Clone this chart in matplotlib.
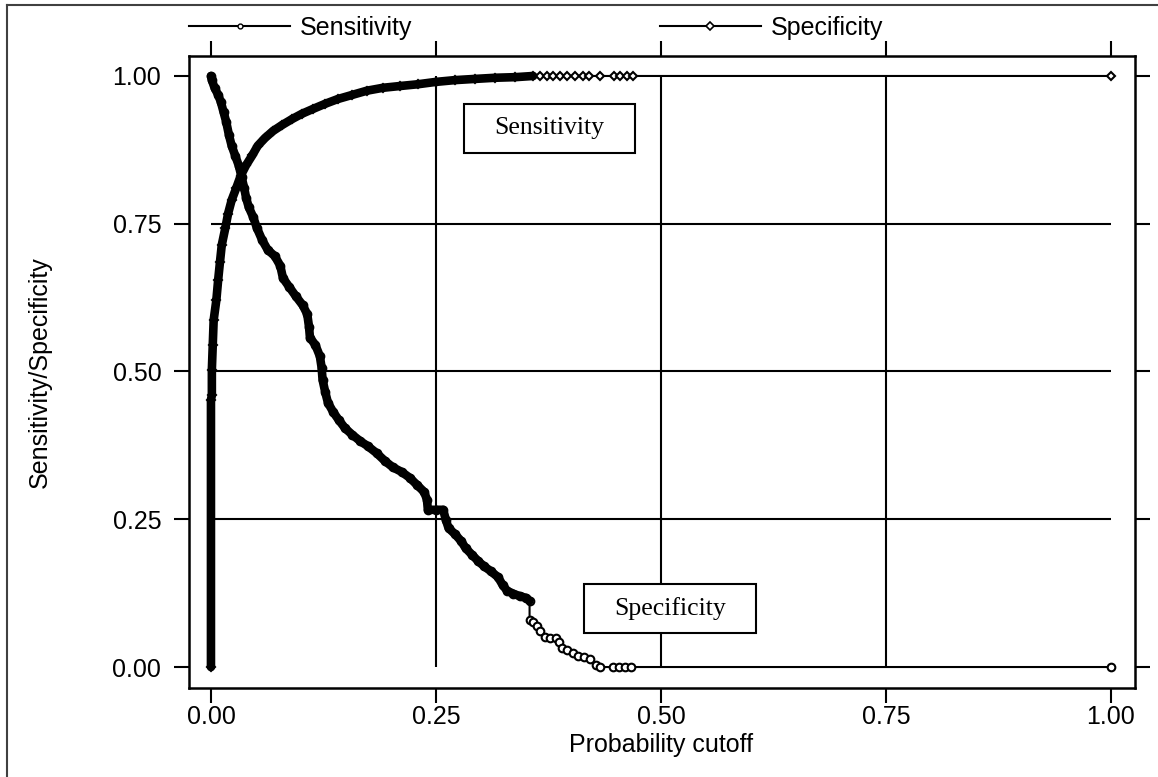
import matplotlib
matplotlib.use("Agg")
import matplotlib.pyplot as plt
from matplotlib.lines import Line2D
from matplotlib.patches import Rectangle

plt.rcParams['font.family'] = ['Liberation Sans', 'DejaVu Sans']

# sensitivity curve (falls from 1 to 0)
sens_x = [0.0, 0.001, 0.004, 0.008, 0.011, 0.014, 0.017, 0.02, 0.023, 0.027,
          0.031, 0.034, 0.037, 0.039, 0.042, 0.047, 0.051, 0.057, 0.063, 0.071,
          0.077, 0.08, 0.087, 0.094, 0.102, 0.107, 0.109, 0.11, 0.116, 0.121,
          0.123, 0.124, 0.127, 0.13, 0.136, 0.142, 0.149, 0.157, 0.166, 0.174,
          0.184, 0.193, 0.202, 0.212, 0.221, 0.229, 0.237, 0.24, 0.241, 0.25,
          0.258, 0.261, 0.264, 0.271, 0.278, 0.283, 0.29, 0.297, 0.303, 0.311,
          0.319, 0.324, 0.329, 0.336, 0.343, 0.35, 0.354,
          0.354, 0.358, 0.362, 0.366, 0.371, 0.377, 0.383, 0.387, 0.39, 0.396,
          0.402, 0.408, 0.414, 0.421, 0.428, 0.432, 0.447, 0.453, 0.46, 0.467, 1.0]
sens_y = [1.0, 0.993, 0.98, 0.968, 0.956, 0.939, 0.922, 0.9, 0.882, 0.865,
          0.848, 0.829, 0.81, 0.794, 0.778, 0.761, 0.743, 0.722, 0.706, 0.695,
          0.679, 0.658, 0.643, 0.628, 0.612, 0.597, 0.575, 0.557, 0.545, 0.526,
          0.506, 0.486, 0.465, 0.447, 0.431, 0.418, 0.404, 0.393, 0.382, 0.374,
          0.362, 0.349, 0.338, 0.33, 0.32, 0.308, 0.296, 0.283, 0.266, 0.266,
          0.266, 0.249, 0.235, 0.225, 0.213, 0.201, 0.19, 0.179, 0.171, 0.162,
          0.152, 0.139, 0.129, 0.124, 0.12, 0.117, 0.112,
          0.08, 0.076, 0.069, 0.061, 0.051, 0.049, 0.049, 0.042, 0.032, 0.029,
          0.024, 0.019, 0.017, 0.014, 0.003, 0.0, 0.0, 0.0, 0.0, 0.0, 0.0]
n_sens_dense = 67

# specificity curve (rises from 0 to 1)
spec_x = [0.0, 0.0, 0.001, 0.001, 0.002, 0.003, 0.006, 0.008, 0.01, 0.012,
          0.016, 0.019, 0.023, 0.028, 0.033, 0.039, 0.046, 0.052, 0.06, 0.069,
          0.079, 0.09, 0.101, 0.113, 0.127, 0.141, 0.157, 0.173, 0.191, 0.21,
          0.23, 0.25, 0.271, 0.293, 0.316, 0.338, 0.358,
          0.366, 0.373, 0.38, 0.388, 0.396, 0.404, 0.413, 0.42, 0.432,
          0.448, 0.455, 0.462, 0.469, 1.0]
spec_y = [0.0, 0.452, 0.46, 0.503, 0.545, 0.587, 0.621, 0.655, 0.685, 0.714,
          0.743, 0.767, 0.79, 0.81, 0.831, 0.849, 0.866, 0.882, 0.895, 0.907,
          0.917, 0.927, 0.936, 0.944, 0.953, 0.961, 0.968, 0.975, 0.98, 0.983,
          0.986, 0.99, 0.993, 0.995, 0.997, 0.998, 1.0,
          1.0, 1.0, 1.0, 1.0, 1.0, 1.0, 1.0, 1.0, 1.0,
          1.0, 1.0, 1.0, 1.0, 1.0]
n_spec_dense = 37

ticks = [0.0, 0.25, 0.5, 0.75, 1.0]
tick_labels = ["0.00", "0.25", "0.50", "0.75", "1.00"]
inner = [0.25, 0.5, 0.75]

fig = plt.figure(figsize=(11.58, 7.77), dpi=100)
ax = fig.add_axes([189 / 1158, 1 - 688 / 777, 946 / 1158, 632 / 777])
ax.set_xlim(-0.0244, 1.0267)
ax.set_ylim(-0.0355, 1.0338)

# grid inside the data range only
ax.hlines(inner, 0, 1, color='black', lw=1.5, zorder=1)
ax.vlines(inner, 0, 1, color='black', lw=1.5, zorder=1)

# sensitivity: hollow circles
ax.plot(sens_x, sens_y, color='black', lw=1.5, marker='o', ms=5.5,
        mfc='white', mec='black', mew=1.5, zorder=3)
ax.plot(sens_x[:n_sens_dense], sens_y[:n_sens_dense], color='black', lw=6.2,
        solid_capstyle='round', solid_joinstyle='round', zorder=4)

# specificity: hollow diamonds
ax.plot(spec_x, spec_y, color='black', lw=1.5, marker='D', ms=4,
        mfc='white', mec='black', mew=1.5, zorder=3)
ax.plot(spec_x[:n_spec_dense], spec_y[:n_spec_dense], color='black', lw=6.2,
        solid_capstyle='round', solid_joinstyle='round', zorder=4)

# boxed labels
for label, (x0, y0, x1, y1) in [("Sensitivity", (0.281, 0.870, 0.471, 0.953)),
                                 ("Specificity", (0.414, 0.0575, 0.606, 0.140))]:
    ax.add_patch(Rectangle((x0, y0), x1 - x0, y1 - y0, facecolor='white',
                           edgecolor='black', lw=1.5, zorder=5))
    ax.text((x0 + x1) / 2, (y0 + y1) / 2, label, ha='center', va='center',
            family='Liberation Serif', fontsize=18.5, zorder=6)

ax.set_xticks(ticks)
ax.set_xticklabels(tick_labels)
ax.set_yticks(ticks)
ax.set_yticklabels(tick_labels)
ax.tick_params(axis='both', direction='out', length=10.5, width=1.5,
               labelsize=18, top=True, right=True)
ax.tick_params(axis='x', pad=2)
ax.tick_params(axis='y', pad=9.4)
for s in ax.spines.values():
    s.set_linewidth(1.8)

ax.set_xlabel("Probability cutoff", fontsize=18)
ax.xaxis.set_label_coords(0.499, -0.090)
ax.xaxis.label.set_va('center')
ax.set_ylabel("Sensitivity/Specificity", fontsize=18)
ax.yaxis.set_label_coords((40 - 189) / 946, 0.5)
ax.yaxis.label.set_va('center')

handles = [Line2D([], [], color='black', lw=1.5, marker='o', ms=3.5,
                  mfc='white', mec='black', mew=1.0),
           Line2D([], [], color='black', lw=1.5, marker='D', ms=3.8,
                  mfc='white', mec='black', mew=1.2)]
ax.legend(handles, ["Sensitivity", "Specificity"], ncol=2, frameon=False,
          fontsize=18, handlelength=4.04, handletextpad=0.4,
          columnspacing=9.9, borderpad=0, borderaxespad=0, numpoints=1,
          loc='center left', bbox_to_anchor=(189 / 1158, 1 - 28 / 777),
          bbox_transform=fig.transFigure)

# outer frame of the graph (only top and left edges show)
fig.add_artist(Line2D([7 / 1158, 1], [1 - 5 / 777] * 2,
                      transform=fig.transFigure, color='#404040', lw=1.5))
fig.add_artist(Line2D([7 / 1158] * 2, [0, 1 - 5 / 777],
                      transform=fig.transFigure, color='#404040', lw=1.5))

fig.savefig("out.png", dpi=100)
